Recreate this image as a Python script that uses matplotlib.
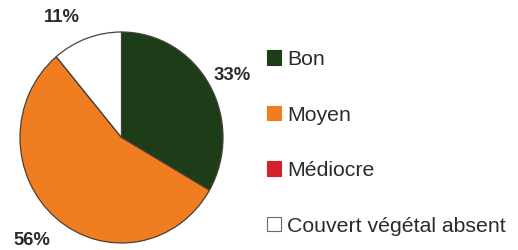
import matplotlib
matplotlib.use("Agg")
import matplotlib.pyplot as plt
from matplotlib.patches import Patch

categories = ["Bon", "Moyen", "Médiocre", "Couvert végétal absent"]
values = [3, 5, 0, 1]
pct_labels = ["33%", "56%", "", "11%"]
colors = ["#1d3c18", "#f07d1f", "#d2232a", "#ffffff"]
edge = "#4b4036"
text_color = "#2b2b2b"

W, H = 518, 250
fig = plt.figure(figsize=(W / 100, H / 100), dpi=100)
fig.patch.set_facecolor("white")

cx, cy, rx, ry = 121.5, 137.5, 101.5, 105.5
ax = fig.add_axes([(cx - rx) / W, 1 - (cy + ry) / H, 2 * rx / W, 2 * ry / H])
wedges, texts = ax.pie(
    values, colors=colors, startangle=90, counterclock=False,
    labels=pct_labels, labeldistance=1.25,
    wedgeprops=dict(edgecolor=edge, linewidth=0.9),
    textprops=dict(fontsize=13.3, fontweight="bold", color=text_color,
                   family=["Liberation Sans", "DejaVu Sans"]),
)
ax.set_aspect("auto")
ax.set_xlim(-1, 1)
ax.set_ylim(-1, 1)
# label placement (outside the pie, as in the reference)
label_pos = {0: (1.089, 0.592), 1: (-0.882, -0.981), 3: (-0.586, 1.133)}
for i, t in enumerate(texts):
    t.set_clip_on(False)
    t.set_ha("center")
    t.set_va("center")
    if i in label_pos:
        t.set_position(label_pos[i])

handles = [Patch(facecolor=c, edgecolor="#6a6a6a" if c == "#ffffff" else c, linewidth=0.8)
           for c in colors]
leg = fig.legend(handles, categories, loc="upper left",
                 bbox_to_anchor=(267 / W, 1 - 50 / H),
                 frameon=False, borderpad=0, borderaxespad=0,
                 handlelength=0.66, handleheight=0.66, handletextpad=0.28,
                 labelspacing=1.72,
                 prop=dict(family=["Liberation Sans", "DejaVu Sans"], size=15.3))
for t in leg.get_texts():
    t.set_color(text_color)

fig.savefig("out.png", dpi=100, facecolor="white")
